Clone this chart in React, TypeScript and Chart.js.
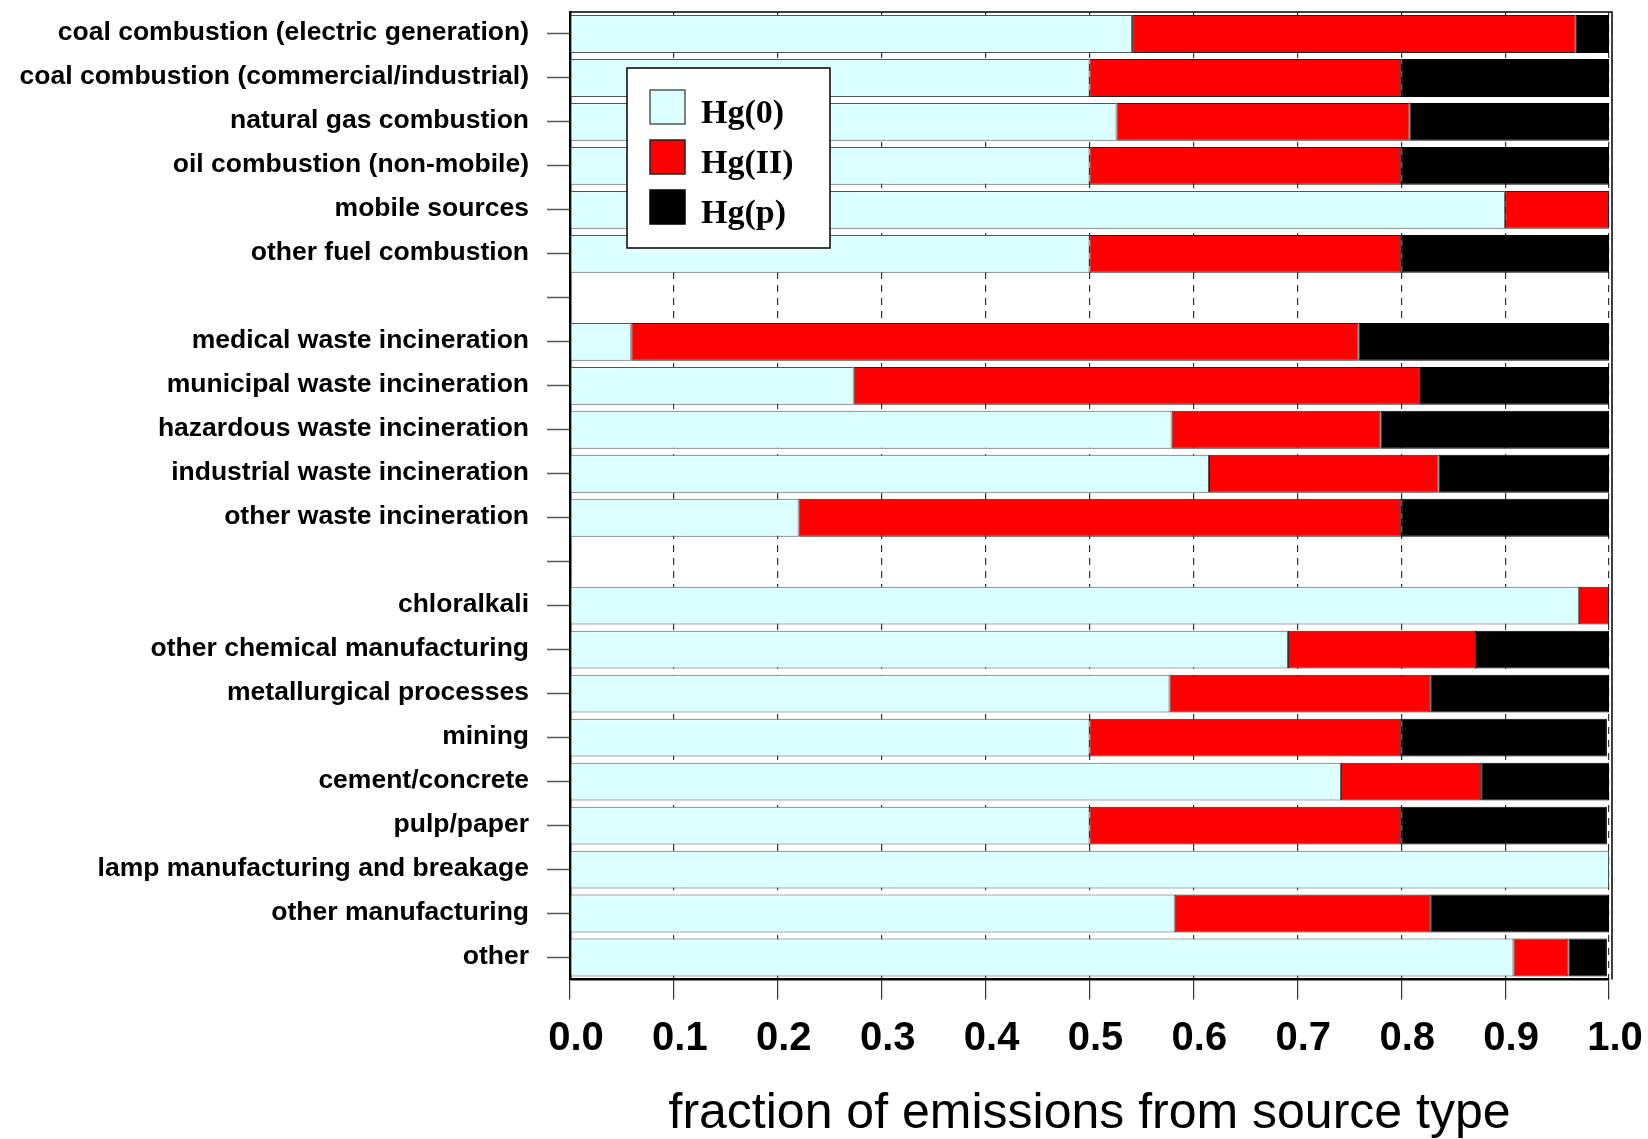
import React, { useEffect, useRef } from 'react';
import { Chart, registerables } from 'chart.js';

Chart.register(...registerables);

// ---------- data ----------
const categories: string[] = [
  'coal combustion (electric generation)',
  'coal combustion (commercial/industrial)',
  'natural gas combustion',
  'oil combustion (non-mobile)',
  'mobile sources',
  'other fuel combustion',
  '',
  'medical waste incineration',
  'municipal waste incineration',
  'hazardous waste incineration',
  'industrial waste incineration',
  'other waste incineration',
  '',
  'chloralkali',
  'other chemical manufacturing',
  'metallurgical processes',
  'mining',
  'cement/concrete',
  'pulp/paper',
  'lamp manufacturing and breakage',
  'other manufacturing',
  'other',
];

const hg0: (number | null)[] = [0.541, 0.5, 0.526, 0.5, 0.9, 0.5, null, 0.059, 0.273, 0.579, 0.615, 0.22, null, 0.971, 0.691, 0.577, 0.5, 0.742, 0.5, 1.0, 0.582, 0.908];
const hgII: (number | null)[] = [0.427, 0.3, 0.282, 0.3, 0.1, 0.3, null, 0.7, 0.545, 0.201, 0.221, 0.58, null, 0.029, 0.181, 0.251, 0.3, 0.135, 0.3, 0, 0.246, 0.053];
const hgP: (number | null)[] = [0.032, 0.2, 0.192, 0.2, 0, 0.2, null, 0.241, 0.182, 0.22, 0.164, 0.2, null, 0, 0.128, 0.172, 0.198, 0.123, 0.198, 0, 0.172, 0.037];

const seriesLabels = ['Hg(0)', 'Hg(II)', 'Hg(p)'];
const seriesColors = ['#dcffff', '#ff0000', '#000000'];
const seriesBorders = ['#4a5a5a', '#222222', '#000000'];

const xTickValues = [0, 0.1, 0.2, 0.3, 0.4, 0.5, 0.6, 0.7, 0.8, 0.9, 1.0];
const xTitle = 'fraction of emissions from source type';

const SANS = "'Liberation Sans', Arial, Helvetica, sans-serif";
const SERIF = "'Liberation Serif', 'Times New Roman', serif";

// ---------- plugins ----------
const framePlugin = {
  id: 'frame',
  afterDraw(chart: any) {
    const { ctx, chartArea } = chart;
    const { left, right, top, bottom } = chartArea;
    ctx.save();
    ctx.strokeStyle = '#000';
    ctx.lineWidth = 1.5;
    ctx.beginPath();
    ctx.moveTo(left, top);
    ctx.lineTo(right + 3, top);
    ctx.lineTo(right + 3, bottom);
    ctx.stroke();
    ctx.restore();
  },
};

const boxLegendPlugin = {
  id: 'boxLegend',
  afterDraw(chart: any) {
    const { ctx, chartArea } = chart;
    const bx = chartArea.left + 57;
    const by = chartArea.top + 56;
    const bw = 203;
    const bh = 180;
    ctx.save();
    ctx.fillStyle = '#ffffff';
    ctx.fillRect(bx, by, bw, bh);
    ctx.strokeStyle = '#000';
    ctx.lineWidth = 1.5;
    ctx.strokeRect(bx, by, bw, bh);
    chart.data.datasets.forEach((ds: any, i: number) => {
      const sx = bx + 23;
      const sy = by + 22 + i * 50;
      ctx.fillStyle = ds.backgroundColor;
      ctx.fillRect(sx, sy, 35, 34);
      ctx.strokeStyle = ds.borderColor;
      ctx.lineWidth = 1.5;
      ctx.strokeRect(sx, sy, 35, 34);
      ctx.fillStyle = '#000';
      ctx.font = `bold 34px ${SERIF}`;
      ctx.textAlign = 'left';
      ctx.textBaseline = 'alphabetic';
      ctx.fillText(ds.label, bx + 74, sy + 33);
    });
    ctx.restore();
  },
};

export default function App() {
  const ref = useRef<HTMLCanvasElement | null>(null);

  useEffect(() => {
    if (!ref.current) return;
    const datasets = [hg0, hgII, hgP].map((d, i) => ({
      label: seriesLabels[i],
      data: d,
      backgroundColor: seriesColors[i],
      borderColor: seriesBorders[i],
      borderWidth: 1,
      borderSkipped: false as const,
      categoryPercentage: 1.0,
      barPercentage: 0.86,
    }));

    const chart = new Chart(ref.current, {
      type: 'bar',
      data: { labels: categories, datasets },
      plugins: [framePlugin, boxLegendPlugin],
      options: {
        indexAxis: 'y',
        responsive: false,
        animation: false,
        devicePixelRatio: 1,
        layout: { padding: { top: 12, right: 39, bottom: 0, left: 0 } },
        plugins: {
          legend: { display: false },
          tooltip: { enabled: false },
          title: { display: false },
        },
        scales: {
          x: {
            type: 'linear',
            stacked: true,
            min: 0,
            max: 1,
            afterBuildTicks: (scale: any) => {
              scale.ticks = xTickValues.map((v) => ({ value: v }));
            },
            afterFit: (scale: any) => {
              scale.height = 159.5;
              scale.paddingLeft = 0;
              scale.paddingRight = 0;
            },
            ticks: {
              autoSkip: false,
              maxRotation: 0,
              padding: 15,
              labelOffset: 6,
              color: '#000',
              font: { family: SANS, size: 40, weight: 'bold' },
              callback: (v: any) => Number(v).toFixed(1),
            },
            grid: {
              display: true,
              drawOnChartArea: true,
              drawTicks: true,
              tickLength: 20,
              color: '#333333',
              lineWidth: 1.2,
              tickColor: '#333333',
              tickWidth: 1.2,
              tickBorderDash: [],
            },
            border: { display: true, color: '#000', width: 2.5, dash: [7, 6] },
            title: {
              display: true,
              text: xTitle,
              color: '#000',
              font: { family: SANS, size: 50, weight: 'normal' },
              padding: { top: 0, bottom: -5 },
            },
          },
          y: {
            type: 'category',
            stacked: true,
            offset: true,
            afterFit: (scale: any) => {
              scale.width = 570;
              scale.paddingTop = 0;
              scale.paddingBottom = 0;
            },
            ticks: {
              autoSkip: false,
              padding: 18,
              labelOffset: -1,
              color: '#000',
              font: { family: SANS, size: 26.5, weight: 'bold' },
            },
            grid: {
              display: true,
              offset: false,
              drawOnChartArea: false,
              drawTicks: true,
              tickLength: 23,
              tickColor: '#555555',
              tickWidth: 1.5,
            },
            border: { display: true, color: '#000', width: 2.5 },
          },
        },
      } as any,
    });

    return () => chart.destroy();
  }, []);

  return (
    <div
      style={{
        position: 'absolute',
        left: 0,
        top: 0,
        width: 1648,
        height: 1139,
        overflow: 'hidden',
        background: '#ffffff',
      }}
    >
      <canvas ref={ref} width={1648} height={1139} style={{ display: 'block', width: 1648, height: 1139 }} />
    </div>
  );
}
